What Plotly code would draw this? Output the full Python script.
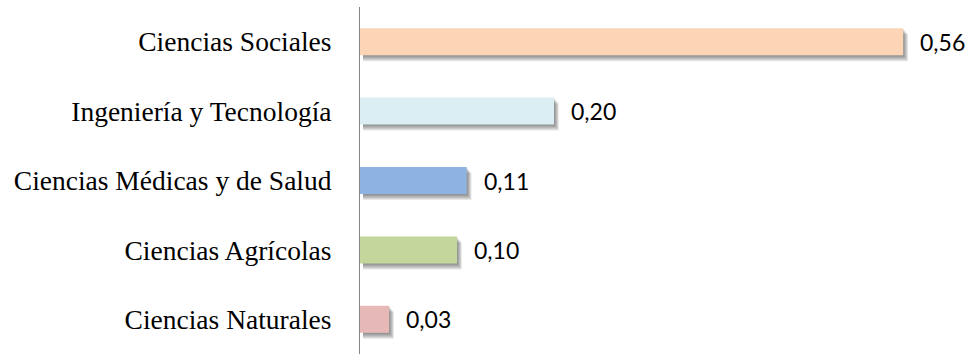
import plotly.graph_objects as go

# Share by knowledge area (bottom to top)
categories = [
    "Ciencias Naturales",
    "Ciencias Agrícolas",
    "Ciencias Médicas y de Salud",
    "Ingeniería y Tecnología",
    "Ciencias Sociales",
]
values = [0.03, 0.10, 0.11, 0.20, 0.56]
value_labels = ["0,03", "0,10", "0,11", "0,20", "0,56"]
bar_colors = ["#E6B9B8", "#C3D69B", "#8DB3E2", "#DAEEF3", "#FBD5B5"]

W, H = 968, 354
M_L, M_R, M_T, M_B = 360, 26, 7, 0
X_MAX = 0.6
px_per_unit = (W - M_L - M_R) / X_MAX
px_per_cat = (H - M_T - M_B) / len(categories)

bar_w = 27 / px_per_cat  # bar thickness in category units

fig = go.Figure()

# soft drop shadow: stacked translucent layers shifted right/down
for i in range(1, 7):
    dx = i * 0.8 / px_per_unit
    dy = i * 1.0 / px_per_cat
    fig.add_trace(go.Bar(
        y=categories,
        x=[v + dx - 3 / px_per_unit for v in values],
        base=[3 / px_per_unit] * len(values),
        orientation="h",
        width=bar_w,
        offset=-bar_w / 2 - dy,
        marker=dict(color="rgba(50,50,50,0.11)", line=dict(width=0)),
        hoverinfo="skip",
        showlegend=False,
    ))

fig.add_trace(go.Bar(
    y=categories,
    x=values,
    orientation="h",
    width=bar_w,
    offset=-bar_w / 2,
    marker=dict(color=bar_colors, line=dict(width=0)),
    showlegend=False,
))

for cat, v, lab in zip(categories, values, value_labels):
    fig.add_annotation(
        x=v, y=cat, text=lab, showarrow=False,
        xanchor="left", yanchor="middle", xshift=15,
        font=dict(family="Lato, Open Sans, sans-serif", size=23, color="#000000"),
    )

fig.update_layout(
    width=W, height=H,
    margin=dict(l=M_L, r=M_R, t=M_T, b=M_B),
    paper_bgcolor="white", plot_bgcolor="white",
    barmode="overlay",
    xaxis=dict(range=[0, X_MAX], visible=False, showgrid=False, zeroline=False),
    yaxis=dict(
        categoryorder="array", categoryarray=categories,
        showline=True, linecolor="#868686", linewidth=1,
        ticks="", showgrid=False, zeroline=False,
        ticklabelstandoff=22,
        tickfont=dict(family="Liberation Serif, Times New Roman, serif", size=27.5, color="#000000"),
    ),
)

fig.write_html("out.html")
